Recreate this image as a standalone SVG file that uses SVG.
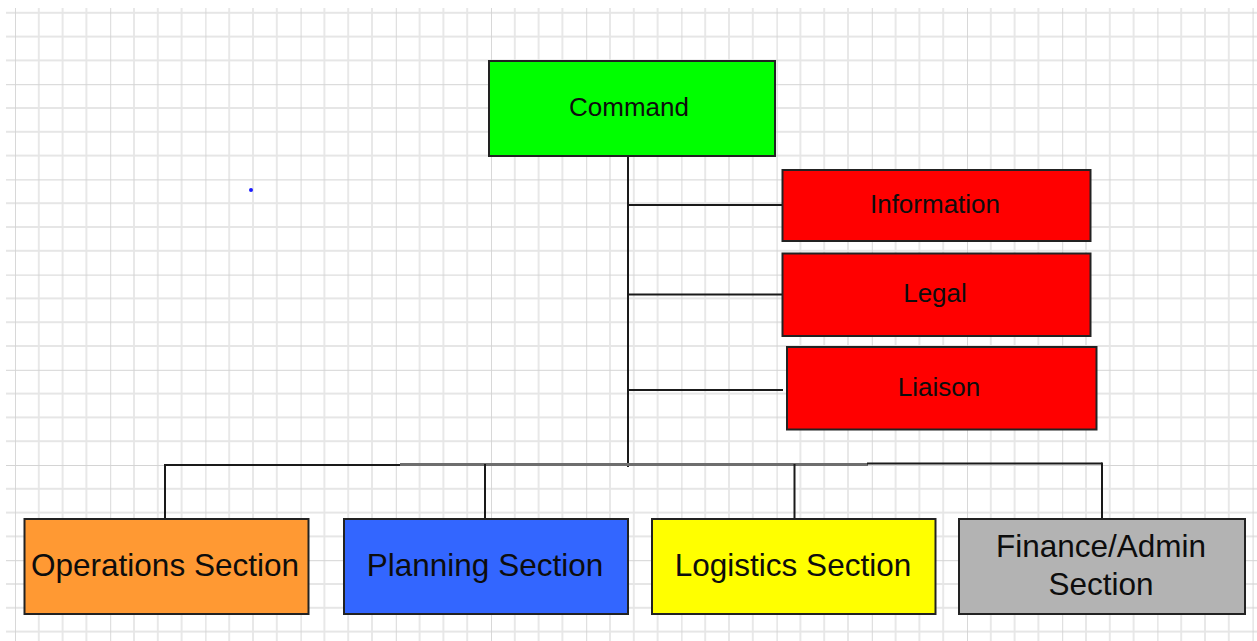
<svg xmlns="http://www.w3.org/2000/svg" width="1257" height="641" viewBox="0 0 1257 641">
  <defs>
    <pattern id="grid" x="15" y="-11" width="95.2" height="95.2" patternUnits="userSpaceOnUse">
      <g stroke="#e6e6e6" stroke-width="1.8">
        <line x1="23.8" y1="0" x2="23.8" y2="95.2"/>
        <line x1="47.6" y1="0" x2="47.6" y2="95.2"/>
        <line x1="71.4" y1="0" x2="71.4" y2="95.2"/>
        <line x1="0" y1="23.8" x2="95.2" y2="23.8"/>
        <line x1="0" y1="47.6" x2="95.2" y2="47.6"/>
        <line x1="0" y1="71.4" x2="95.2" y2="71.4"/>
      </g>
      <g stroke="#d4d4d4" stroke-width="1.8">
        <line x1="0" y1="0" x2="0" y2="95.2"/>
        <line x1="0" y1="0" x2="95.2" y2="0"/>
      </g>
    </pattern>
  </defs>
  <style>
    .box { stroke: #222; stroke-width: 2; }
    .conn { stroke: #1a1a1a; stroke-width: 2; fill: none; }
    .t { font-family: "Liberation Sans", Arial, sans-serif; fill: #0d0d0d; text-anchor: middle; }
    .s { font-size: 26px; }
    .b { font-size: 31.5px; }
  </style>
  <rect x="0" y="0" width="1257" height="641" fill="#ffffff"/>
  <rect x="6" y="8" width="1251" height="633" fill="url(#grid)"/>
  <circle cx="251" cy="190" r="2" fill="#1a1aff"/>

  <g id="connectors">
    <line class="conn" x1="628" y1="156" x2="628" y2="467"/>
    <line class="conn" x1="628" y1="205" x2="782" y2="205"/>
    <line class="conn" x1="628" y1="294.5" x2="782" y2="294.5"/>
    <line class="conn" x1="628" y1="390" x2="783" y2="390"/>
    <line class="conn" x1="165" y1="465" x2="401" y2="465"/>
    <line x1="400" y1="464.5" x2="868" y2="464.5" stroke="#6e6e6e" stroke-width="3"/>
    <line class="conn" x1="867" y1="463.5" x2="1102" y2="463.5"/>
    <line class="conn" x1="165" y1="464" x2="165" y2="519"/>
    <line class="conn" x1="485" y1="464" x2="485" y2="519"/>
    <line class="conn" x1="794.5" y1="464" x2="794.5" y2="519"/>
    <line class="conn" x1="1102" y1="462.5" x2="1102" y2="519"/>
  </g>

  <g id="command">
    <rect class="box" x="489" y="61" width="286" height="95" fill="#00ff00"/>
    <text class="t s" x="629" y="116">Command</text>
  </g>
  <g id="information">
    <rect class="box" x="782.5" y="170" width="308" height="71" fill="#ff0000"/>
    <text class="t s" x="935" y="213">Information</text>
  </g>
  <g id="legal">
    <rect class="box" x="782.5" y="253.5" width="308" height="82.5" fill="#ff0000"/>
    <text class="t s" x="935" y="302">Legal</text>
  </g>
  <g id="liaison">
    <rect class="box" x="787" y="347" width="309.5" height="82.5" fill="#ff0000"/>
    <text class="t s" x="939" y="396">Liaison</text>
  </g>
  <g id="operations">
    <rect class="box" x="24.5" y="519" width="284" height="95" fill="#ff9933"/>
    <text class="t b" x="165" y="576">Operations Section</text>
  </g>
  <g id="planning">
    <rect class="box" x="344" y="519" width="284" height="95" fill="#3366ff"/>
    <text class="t b" x="485" y="576">Planning Section</text>
  </g>
  <g id="logistics">
    <rect class="box" x="652" y="519" width="283.5" height="95" fill="#ffff00"/>
    <text class="t b" x="793" y="576">Logistics Section</text>
  </g>
  <g id="finance">
    <rect class="box" x="959" y="519" width="286" height="95" fill="#b3b3b3"/>
    <text class="t b" x="1101" y="557" fill="#222">Finance/Admin</text>
    <text class="t b" x="1101" y="595" fill="#222">Section</text>
  </g>
</svg>
